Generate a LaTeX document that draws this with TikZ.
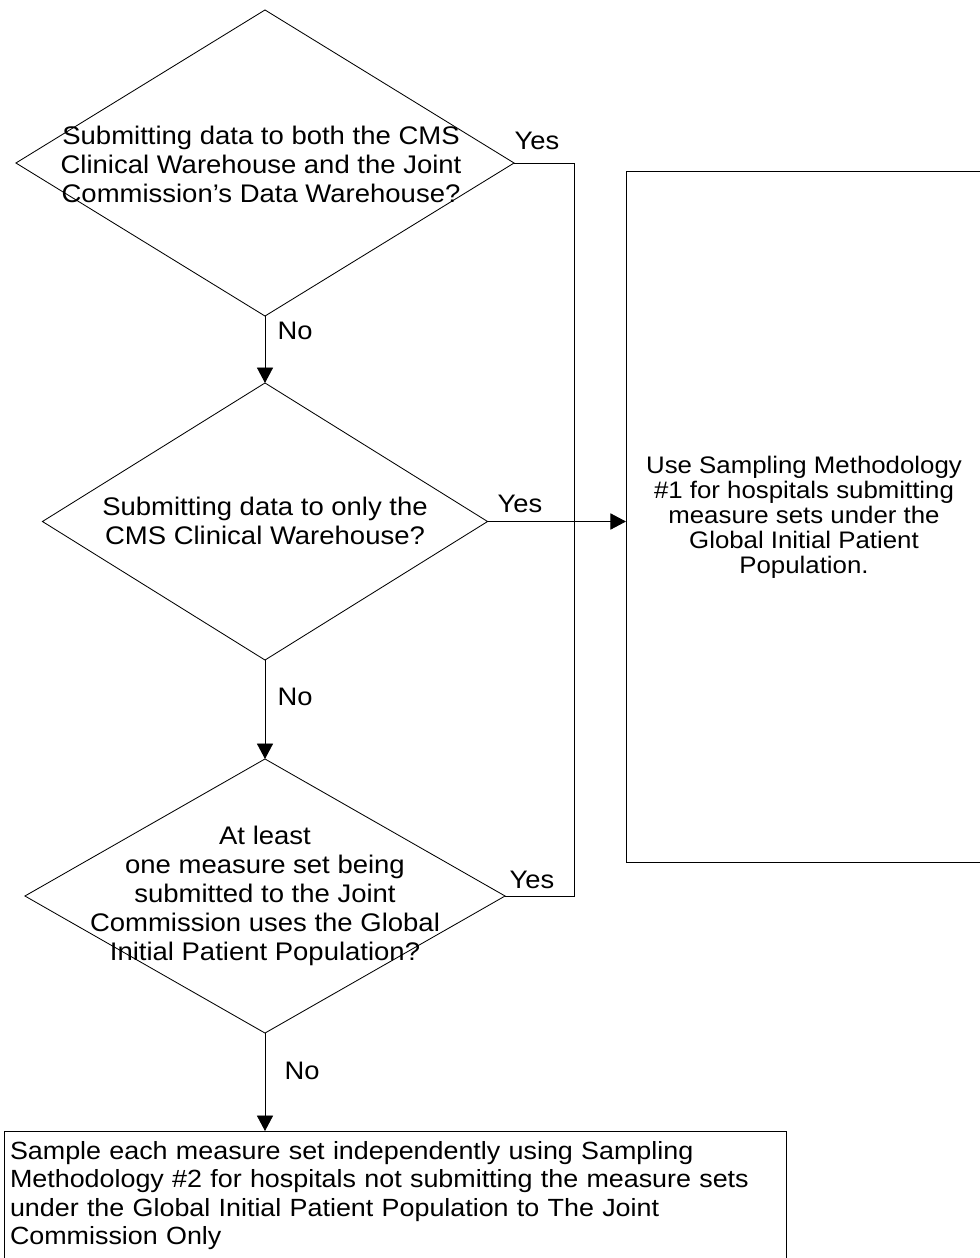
\documentclass[tikz,border=0pt]{standalone}
\usepackage{fontspec}
\setmainfont[FakeStretch=1.08]{Liberation Sans}
\usetikzlibrary{shapes.geometric,arrows.meta}

\tikzset{
  decision/.style={diamond, draw, line width=0.6pt, inner sep=0pt, outer sep=0pt},
  qtext/.style={align=center, font=\fontsize{18.1}{20.6}\selectfont},
  outcome/.style={draw, line width=0.6pt, outer sep=0pt},
  flow/.style={draw, line width=0.6pt, -{Triangle[length=11pt,width=11.5pt]}},
  answer/.style={font=\fontsize{18}{20}\selectfont, inner sep=0pt}
}

\begin{document}
\begin{tikzpicture}[x=0.025cm, y=-0.025cm]
  \useasboundingbox (0,0) rectangle (980,1258);

  % the three questions
  \node[decision, minimum width=12.45cm, minimum height=7.65cm] (ask1) at (265,163) {};
  \node[qtext] (ask1txt) at (261,164) {Submitting data to both the CMS\\Clinical Warehouse and the Joint\\Commission’s Data Warehouse?};

  \node[decision, minimum width=11.125cm, minimum height=6.925cm] (ask2) at (265,521.5) {};
  \node[qtext] (ask2txt) at (265,521) {Submitting data to only the\\CMS Clinical Warehouse?};

  \node[decision, minimum width=12cm, minimum height=6.85cm] (ask3) at (265,896) {};
  \node[qtext] (ask3txt) at (265,896) {At least\\one measure set being\\submitted to the Joint\\Commission uses the Global\\Initial Patient Population?};

  % outcomes
  \node[outcome, minimum width=8.9cm, minimum height=17.25cm, align=center,
        font=\fontsize{17}{17.8}\selectfont] (useone) at (804,517)
    {Use Sampling Methodology\\\#1 for hospitals submitting\\measure sets under the\\Global Initial Patient\\Population.};
  \node[outcome, anchor=north west, text width=19.25cm, minimum height=3.235cm,
        inner xsep=0.15cm, align=left, font=\fontsize{17.7}{20.3}\selectfont] (usetwo) at (4,1131)
    {Sample each measure set independently using Sampling\\Methodology \#2 for hospitals not submitting the measure sets\\under the Global Initial Patient Population to The Joint\\Commission Only};

  % connectors
  \coordinate (bus) at (574,163);
  \draw[line width=0.6pt] (ask1.east) -- (bus) -- (bus |- ask3.east) -- (ask3.east);
  \draw[flow] (ask1.south) -- (ask2.north);
  \draw[flow] (ask2.south) -- (ask3.north);
  \draw[flow] (ask3.south) -- (ask3.south |- usetwo.north);
  \draw[flow] (ask2.east) -- (ask2.east -| useone.west);

  % answers
  \node[answer] (yes1) at (537,141) {Yes};
  \node[answer] (yes2) at (520,504) {Yes};
  \node[answer] (yes3) at (532,880) {Yes};
  \node[answer] (no1) at (295,331) {No};
  \node[answer] (no2) at (295,697) {No};
  \node[answer] (no3) at (302,1071) {No};
\end{tikzpicture}
\end{document}
